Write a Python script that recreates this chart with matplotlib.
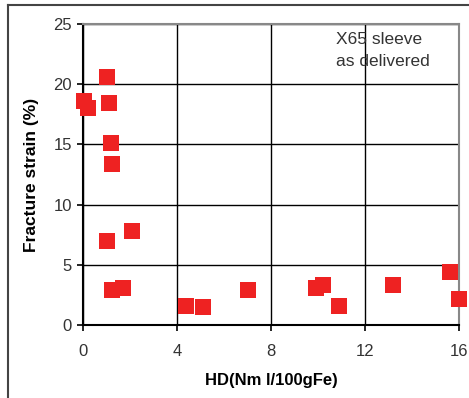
import numpy as np
import matplotlib.pyplot as plt
from matplotlib.lines import Line2D

plt.rcParams['font.family'] = ['Liberation Sans', 'DejaVu Sans']

# hydrogen content vs fracture strain, X65 sleeve as delivered
hd = [0.05, 0.2, 1.0, 1.1, 1.2, 1.25, 1.0, 2.1, 1.25, 1.7,
      4.4, 5.1, 7.0, 9.9, 10.2, 10.9, 13.2, 15.6, 16.0]
strain = [18.6, 18.0, 20.6, 18.4, 15.1, 13.4, 7.0, 7.8, 2.9, 3.05,
          1.6, 1.5, 2.9, 3.1, 3.3, 1.55, 3.3, 4.4, 2.2]

xticks = [0, 4, 8, 12, 16]
yticks = [0, 5, 10, 15, 20, 25]

fig = plt.figure(figsize=(4.69, 3.98), dpi=100)
ax = fig.add_axes([83/469, 1-325/398, 376/469, 301/398])

ax.plot(hd, strain, 's', color='#ee2222', markersize=11.5, markeredgewidth=0,
        clip_on=False, zorder=3)

ax.set_xlim(0, 16)
ax.set_ylim(0, 25)
ax.set_xticks(xticks)
ax.set_yticks(yticks)
ax.grid(True, color='black', linewidth=1.0)
ax.set_axisbelow(True)

ax.spines['left'].set_linewidth(1.5)
ax.spines['bottom'].set_linewidth(1.5)
ax.spines['top'].set_color('#888888')
ax.spines['right'].set_color('#888888')
ax.spines['top'].set_linewidth(1.5)
ax.spines['right'].set_linewidth(1.5)
ax.tick_params(direction='out', length=4.5, width=1.2, labelsize=12,
               labelcolor='#333333')
ax.tick_params(axis='x', pad=9)
ax.tick_params(axis='y', pad=3.5)

ax.set_xlabel('HD(Nm l/100gFe)', fontsize=12, fontweight='bold', labelpad=10)
ax.set_ylabel('Fracture strain (%)', fontsize=12.5, fontweight='bold', labelpad=10)

ax.text(0.672, 0.975, 'X65 sleeve\nas delivered', transform=ax.transAxes,
        fontsize=12.5, color='#333333', va='top', ha='left', linespacing=1.6)

# outer frame of the figure
fig.add_artist(Line2D([8/469, 8/469], [0, 1-5/398], color='#444444', lw=1.5,
                      transform=fig.transFigure))
fig.add_artist(Line2D([8/469, 1], [1-5/398, 1-5/398], color='#444444', lw=1.5,
                      transform=fig.transFigure))

fig.savefig('out.png', dpi=100)
